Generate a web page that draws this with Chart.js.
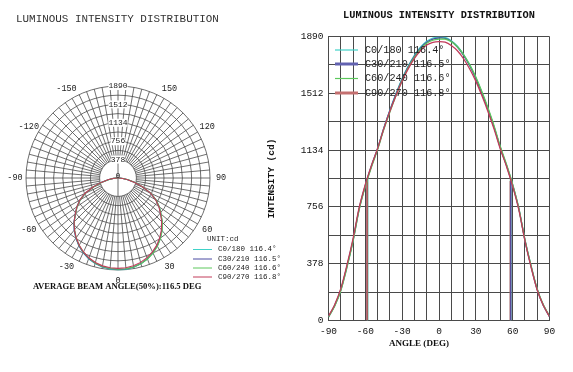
<!DOCTYPE html>
<html>
<head>
<meta charset="utf-8">
<script src="https://cdn.jsdelivr.net/npm/chart.js@4.4.1/dist/chart.umd.min.js"></script>
<style>
  body { margin: 0; background: #fff; }
  #wrap { position: relative; width: 573px; height: 372px; overflow: hidden; background: #fff; }
  canvas { position: absolute; }
  #polar { left: 0; top: 0; }
  #curve { left: 260px; top: 0; }
</style>
</head>
<body>
<div id="wrap">
  <canvas id="polar" width="290" height="300"></canvas>
  <canvas id="curve" width="313" height="372"></canvas>
</div>
<script>
// gamma angles of the measured curves (deg)
var angles = [-90, -85, -80, -75, -70, -65, -60, -55, -50, -45, -40, -35, -30, -25, -20, -15, -10, -5,
              0, 5, 10, 15, 20, 25, 30, 35, 40, 45, 50, 55, 60, 65, 70, 75, 80, 85, 90];

// intensity (cd) per C-plane
var c0_180  = [25, 100, 205, 360, 535, 745, 900, 1030, 1145, 1280, 1400, 1510, 1610, 1695, 1765, 1820, 1858, 1880,
               1886, 1884, 1862, 1825, 1770, 1700, 1615, 1515, 1405, 1285, 1150, 1033, 902, 745, 535, 362, 207, 102, 28];
var c30_210 = [24, 98, 203, 358, 533, 743, 898, 1028, 1143, 1278, 1397, 1507, 1606, 1690, 1760, 1814, 1852, 1873,
               1880, 1878, 1858, 1820, 1765, 1695, 1610, 1511, 1402, 1282, 1148, 1031, 901, 744, 534, 360, 205, 100, 26];
var c60_240 = [22, 95, 198, 352, 528, 738, 893, 1022, 1137, 1270, 1388, 1498, 1598, 1683, 1753, 1808, 1845, 1865,
               1872, 1872, 1856, 1822, 1770, 1703, 1620, 1522, 1412, 1292, 1156, 1038, 906, 748, 538, 365, 210, 104, 30];
var c90_270 = [28, 105, 212, 368, 545, 752, 905, 1032, 1145, 1275, 1392, 1498, 1594, 1676, 1744, 1797, 1833, 1851,
               1856, 1852, 1830, 1795, 1742, 1674, 1593, 1495, 1388, 1270, 1140, 1025, 893, 738, 530, 355, 203, 100, 26];

var seriesNames = ['C0/180', 'C30/210', 'C60/240', 'C90/270'];
var beamAngles  = ['116.4', '116.5', '116.6', '116.8'];
// half-peak markers
var beamLeft   = [-58.2, -58.3, -58.3, -58.6];
var beamRight  = [58.3, 58.5, 58.3, 58.1];
var halfValues = [943, 940, 936, 928];

var intensityTicks = [0, 378, 756, 1134, 1512, 1890];
var angleTicks = [-90, -60, -30, 0, 30, 60, 90];
var polarAngleTicks = [-150, -120, -90, -60, -30, 0, 30, 60, 90, 120, 150];

var colors = ['#3fd2c8', '#4a4aa2', '#5cc85c', '#c23c5a'];
var legendColors = ['#3fd2c8', '#6262b0', '#5cc85c', '#c47070'];
var legendWidths = [1.2, 3, 1.2, 3];
var allSeries = [c0_180, c30_210, c60_240, c90_270];

var MONO = "'Liberation Mono', monospace";
var SERIF = "'Liberation Serif', serif";
var gridColor = '#4a4a4a';

function fitText(ctx, text, x, y, width, weight, family, align) {
  ctx.font = weight + ' 10px ' + family;
  var w = ctx.measureText(text).width;
  var size = 10 * width / w;
  ctx.font = weight + ' ' + size.toFixed(2) + 'px ' + family;
  ctx.textAlign = align || 'left';
  ctx.textBaseline = 'middle';
  ctx.fillText(text, x, y);
}

// ---------- polar plot ----------
var polarLabels = [];
for (var i = 0; i < 72; i++) polarLabels.push(180 - 5 * i);

function polarData(values) {
  return polarLabels.map(function (a) {
    var k = angles.indexOf(a);
    return k >= 0 ? values[k] : 0;
  });
}

var polarDecor = {
  id: 'polarDecor',
  beforeDraw: function (chart) {
    var r = chart.scales.r, ctx = chart.ctx;
    var inner = r.getDistanceFromCenterForValue(378);
    ctx.save();
    ctx.strokeStyle = gridColor;
    ctx.lineWidth = 0.8;
    for (var i = 0; i < polarLabels.length; i++) {
      var a = polarLabels[i];
      var from = (a === 0 || a === 180) ? 0 : inner;
      var p1 = r.getPointPosition(i, from), p2 = r.getPointPosition(i, r.drawingArea);
      ctx.beginPath(); ctx.moveTo(p1.x, p1.y); ctx.lineTo(p2.x, p2.y); ctx.stroke();
    }
    ctx.restore();
  },
  afterDraw: function (chart) {
    var r = chart.scales.r, ctx = chart.ctx;
    ctx.save();
    ctx.fillStyle = '#222';
    ctx.font = '8.5px ' + MONO;
    ctx.textAlign = 'center';
    ctx.textBaseline = 'middle';
    polarAngleTicks.forEach(function (a) {
      var p = r.getPointPosition(polarLabels.indexOf(a), r.drawingArea + 11);
      ctx.fillText(String(a), p.x, p.y);
    });
    ctx.font = '8px ' + MONO;
    ctx.fillText('0', r.xCenter, r.yCenter - 2);

    ctx.fillStyle = '#333';
    fitText(ctx, 'LUMINOUS INTENSITY DISTRIBUTION', 16, 19, 203, 'normal', MONO);

    // legend
    ctx.fillStyle = '#222';
    ctx.font = '7.5px ' + MONO;
    ctx.textAlign = 'left';
    ctx.fillText('UNIT:cd', 207, 239);
    var rows = [249.5, 259, 268, 277];
    for (var s = 0; s < 4; s++) {
      ctx.strokeStyle = colors[s];
      ctx.lineWidth = 1;
      ctx.beginPath(); ctx.moveTo(193, rows[s]); ctx.lineTo(212, rows[s]); ctx.stroke();
      ctx.fillText(seriesNames[s] + ' ' + beamAngles[s] + '\u00b0', 218, rows[s]);
    }
    ctx.fillStyle = '#111';
    fitText(ctx, 'AVERAGE BEAM ANGLE(50%):116.5 DEG', 33, 287, 169, 'bold', SERIF);
    ctx.restore();
  }
};

new Chart(document.getElementById('polar'), {
  type: 'radar',
  data: {
    labels: polarLabels,
    datasets: allSeries.map(function (v, s) {
      return { label: seriesNames[s], data: polarData(v), borderColor: colors[s], borderWidth: 1.1, fill: false, order: 10 - s };
    })
  },
  options: {
    responsive: false,
    animation: false,
    layout: { padding: { left: 22, right: 76, top: 82, bottom: 26 } },
    elements: { point: { radius: 0 }, line: { tension: 0 } },
    plugins: { legend: { display: false }, tooltip: { enabled: false } },
    scales: {
      r: {
        min: 0,
        max: 1890,
        ticks: {
          stepSize: 189,
          callback: function (v) { return intensityTicks.indexOf(v) >= 0 ? v : ''; },
          font: { family: MONO, size: 8 },
          color: '#222',
          backdropColor: '#fff',
          backdropPadding: 0,
          showLabelBackdrop: true
        },
        grid: {
          circular: true,
          lineWidth: 0.8,
          color: function (c) { return c.tick && c.tick.value >= 378 ? gridColor : 'rgba(0,0,0,0)'; }
        },
        angleLines: { display: false },
        pointLabels: { display: false }
      }
    }
  },
  plugins: [polarDecor]
});

// ---------- cartesian plot ----------
function points(values) {
  return angles.map(function (a, k) { return { x: a, y: values[k] }; });
}

var curveSets = allSeries.map(function (v, s) {
  return { label: seriesNames[s], data: points(v), borderColor: colors[s], borderWidth: 1.3, order: 10 - s };
});
var beamSets = [];
[0, 1, 2, 3].forEach(function (s) {
  beamSets.push({ data: [{ x: beamLeft[s], y: 0 }, { x: beamLeft[s], y: halfValues[s] }],
                  borderColor: colors[s], borderWidth: 1.4, order: 30 - s });
});
[0, 2, 3, 1].forEach(function (s, n) {
  beamSets.push({ data: [{ x: beamRight[s], y: 0 }, { x: beamRight[s], y: halfValues[s] }],
                  borderColor: colors[s], borderWidth: 1.4, order: 30 - n });
});

var curveDecor = {
  id: 'curveDecor',
  afterDraw: function (chart) {
    var ctx = chart.ctx, area = chart.chartArea;
    ctx.save();
    ctx.fillStyle = '#111';
    fitText(ctx, 'LUMINOUS INTENSITY DISTRIBUTION', (area.left + area.right) / 2, 15, 192, 'bold', MONO, 'center');
    fitText(ctx, 'ANGLE (DEG)', area.left + 60.5, 344, 60, 'bold', SERIF);

    var rows = [13.5, 27.5, 42, 56.5];
    ctx.font = '10.2px ' + MONO;
    ctx.textAlign = 'left';
    ctx.textBaseline = 'middle';
    for (var s = 0; s < 4; s++) {
      var y = area.top + rows[s];
      ctx.strokeStyle = legendColors[s];
      ctx.lineWidth = legendWidths[s];
      ctx.beginPath(); ctx.moveTo(area.left + 6.5, y); ctx.lineTo(area.left + 29.5, y); ctx.stroke();
      ctx.fillStyle = '#222';
      ctx.fillText(seriesNames[s] + ' ' + beamAngles[s] + '\u00b0', area.left + 36.5, y);
    }
    ctx.restore();
  }
};

new Chart(document.getElementById('curve'), {
  type: 'line',
  data: { datasets: beamSets.concat(curveSets) },
  options: {
    responsive: false,
    animation: false,
    layout: { padding: { left: 0, right: 23.5, top: 36.5, bottom: 0 } },
    elements: { point: { radius: 0 }, line: { tension: 0.3, fill: false } },
    plugins: { legend: { display: false }, tooltip: { enabled: false } },
    scales: {
      x: {
        type: 'linear',
        min: -90,
        max: 90,
        afterFit: function (s) { s.height = 51.5; },
        ticks: {
          stepSize: 10,
          autoSkip: false,
          maxRotation: 0,
          padding: 5,
          color: '#111',
          font: { family: MONO, size: 9.5 },
          callback: function (v) { return angleTicks.indexOf(v) >= 0 ? v : ''; }
        },
        grid: { color: gridColor, lineWidth: 1, drawTicks: false },
        border: { color: gridColor }
      },
      y: {
        min: 0,
        max: 1890,
        afterFit: function (s) { s.width = 68.5; },
        ticks: {
          stepSize: 189,
          autoSkip: false,
          padding: 5,
          color: '#111',
          font: { family: MONO, size: 9.5 },
          callback: function (v) { return intensityTicks.indexOf(v) >= 0 ? v : ''; }
        },
        grid: { color: gridColor, lineWidth: 1, drawTicks: false },
        border: { color: gridColor },
        title: {
          display: true,
          text: 'INTENSITY (cd)',
          color: '#111',
          font: { family: MONO, size: 9.5, weight: 'bold' },
          padding: { top: 6.3, bottom: 0 }
        }
      }
    }
  },
  plugins: [curveDecor]
});
</script>
</body>
</html>
